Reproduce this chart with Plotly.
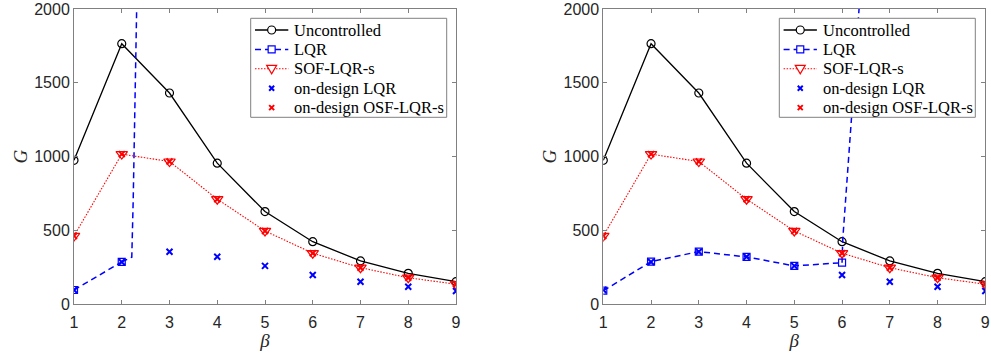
import plotly.graph_objects as go

beta = [1, 2, 3, 4, 5, 6, 7, 8, 9]
G_uncontrolled = [975, 1765, 1431, 956, 628, 424, 294, 210, 153]
G_sof = [463, 1017, 967, 712, 497, 346, 248, 180, 136]
G_ondesign_lqr = [97, 287, 356, 322, 260, 199, 153, 119, 90]
G_ondesign_osf = [463, 1017, 967, 712, 497, 346, 248, 180, 136]

# LQR evaluated off-design (left panel) and its blow-up branch
lqr_left_beta = [1, 2]
lqr_left_G = [97, 287]
lqr_left_tail_beta = [2.21, 2.24, 2.28, 2.31, 2.34]
lqr_left_tail_G = [319, 707, 1380, 2000, 2500]

# right panel
lqr_right_beta = [1, 2, 3, 4, 5, 6]
lqr_right_G = [92, 289, 357, 321, 260, 282]
lqr_right_tail_beta = [6.015, 6.2, 6.35, 6.42]
lqr_right_tail_G = [440, 1272, 2000, 2300]

legend_labels = ["Uncontrolled", "LQR", "SOF-LQR-s", "on-design LQR", "on-design OSF-LQR-s"]

BLACK, BLUE, RED = "#000000", "#0000ff", "#ff0000"
AX = "#808080"
TXT = "#262626"
W, H = 991, 355

styles = [
    dict(line=dict(color=BLACK, width=1.3),
         marker=dict(symbol="circle-open", size=8, color=BLACK, line=dict(width=1.2))),
    dict(line=dict(color=BLUE, width=1.5, dash="6px,4px"),
         marker=dict(symbol="square-open", size=7, color=BLUE, line=dict(width=1.2))),
    dict(line=dict(color=RED, width=1.1, dash="1.5px,1.5px"),
         marker=dict(symbol="triangle-down-open", size=10, color=RED, line=dict(width=1.2))),
    dict(line=None,
         marker=dict(symbol="x-thin-open", size=6, color=BLUE, line=dict(width=2, color=BLUE))),
    dict(line=None,
         marker=dict(symbol="x-thin-open", size=6, color=RED, line=dict(width=2, color=RED))),
]

fig = go.Figure()

def add_panel(col, lqr_b, lqr_g, tail_b, tail_g):
    xa = "x" if col == 1 else "x2"
    ya = "y" if col == 1 else "y2"
    common = dict(xaxis=xa, yaxis=ya, showlegend=False)
    fig.add_trace(go.Scatter(x=beta, y=G_uncontrolled, mode="lines+markers", name=legend_labels[0],
                             line=styles[0]["line"], marker=styles[0]["marker"], **common))
    fig.add_trace(go.Scatter(x=lqr_b, y=lqr_g, mode="lines+markers", name=legend_labels[1],
                             line=styles[1]["line"], marker=styles[1]["marker"], **common))
    fig.add_trace(go.Scatter(x=[lqr_b[-1]] + tail_b, y=[lqr_g[-1]] + tail_g, mode="lines",
                             line=styles[1]["line"], hoverinfo="skip", **common))
    fig.add_trace(go.Scatter(x=beta, y=G_sof, mode="lines+markers", name=legend_labels[2],
                             line=styles[2]["line"], marker=styles[2]["marker"], **common))
    fig.add_trace(go.Scatter(x=beta, y=G_ondesign_lqr, mode="markers", name=legend_labels[3],
                             marker=styles[3]["marker"], **common))
    fig.add_trace(go.Scatter(x=beta, y=G_ondesign_osf, mode="markers", name=legend_labels[4],
                             marker=styles[4]["marker"], **common))

add_panel(1, lqr_left_beta, lqr_left_G, lqr_left_tail_beta, lqr_left_tail_G)
add_panel(2, lqr_right_beta, lqr_right_G, lqr_right_tail_beta, lqr_right_tail_G)

# ---- MATLAB-style legend boxes drawn with shapes above the data ----
shapes, annotations = [], []
BOX_W, BOX_H, BOX_TOP = 196, 99, 18.3
ROW0, ROW_DY = 11.7, 19.4
SAMPLE_X0, SAMPLE_X1, TEXT_X = 4.3, 37.6, 41.5

def px(x):
    return x / W

def py(y):
    return 1 - y / H

def path(points_groups):
    s = ""
    for pts in points_groups:
        s += "M" + " L".join(f"{px(x):.5f},{py(y):.5f}" for x, y in pts) + " "
    return s.strip()

def add_marker_shape(sym, xc, yc, color):
    base = dict(type="path", xref="paper", yref="paper", layer="above",
                line=dict(color=color, width=1.2), fillcolor="rgba(0,0,0,0)")
    if sym == "circle-open":
        shapes.append(dict(type="circle", xref="paper", yref="paper", layer="above",
                           x0=px(xc - 4), x1=px(xc + 4), y0=py(yc + 4), y1=py(yc - 4),
                           line=dict(color=color, width=1.2), fillcolor="white"))
    elif sym == "square-open":
        shapes.append(dict(type="rect", xref="paper", yref="paper", layer="above",
                           x0=px(xc - 3.5), x1=px(xc + 3.5), y0=py(yc + 3.5), y1=py(yc - 3.5),
                           line=dict(color=color, width=1.2), fillcolor="white"))
    elif sym == "triangle-down-open":
        d = path([[(xc - 5, yc - 3.5), (xc + 5, yc - 3.5), (xc, yc + 5)]]) + " Z"
        shapes.append(dict(base, path=d, fillcolor="white"))
    else:
        d = path([[(xc - 2.5, yc - 2.5), (xc + 2.5, yc + 2.5)],
                  [(xc - 2.5, yc + 2.5), (xc + 2.5, yc - 2.5)]])
        shapes.append(dict(base, path=d, line=dict(color=color, width=2)))

def add_legend(left):
    shapes.append(dict(type="rect", xref="paper", yref="paper", layer="above",
                       x0=px(left), x1=px(left + BOX_W), y0=py(BOX_TOP + BOX_H), y1=py(BOX_TOP),
                       line=dict(color=AX, width=1), fillcolor="white"))
    for i, (lab, st) in enumerate(zip(legend_labels, styles)):
        yc = BOX_TOP + ROW0 + i * ROW_DY
        xc = left + (SAMPLE_X0 + SAMPLE_X1) / 2
        if st["line"] is not None:
            ln = st["line"]
            shapes.append(dict(type="line", xref="paper", yref="paper", layer="above",
                               x0=px(left + SAMPLE_X0), x1=px(left + SAMPLE_X1),
                               y0=py(yc), y1=py(yc),
                               line=dict(color=ln["color"], width=ln["width"],
                                         dash=ln.get("dash", "solid"))))
        add_marker_shape(st["marker"]["symbol"], xc, yc, st["marker"]["color"])
        annotations.append(dict(x=px(left + TEXT_X), y=py(yc), xref="paper", yref="paper", text=lab,
                                showarrow=False, xanchor="left", yanchor="middle",
                                font=dict(family="Liberation Serif, Times New Roman", size=16.5,
                                          color="#000000")))

add_legend(250.7)
add_legend(779.3)

tickfont = dict(family="Liberation Sans, Arial", size=16, color=TXT)
titlefont = dict(family="Liberation Serif, Times New Roman", size=19, color=TXT)

def xaxis(domain, anchor):
    return dict(domain=domain, anchor=anchor, range=[1, 9], dtick=1, tick0=1,
                showline=True, mirror="ticks", linecolor=AX, linewidth=1,
                ticks="inside", ticklen=4, tickcolor=AX, tickfont=tickfont,
                ticklabelstandoff=3, automargin=False,
                showgrid=False, zeroline=False,
                title=dict(text="<i>β</i>", font=titlefont, standoff=2))

def yaxis(anchor):
    return dict(domain=[50.7 / 355, 346 / 355], anchor=anchor, range=[0, 2000], dtick=500,
                showline=True, mirror="ticks", linecolor=AX, linewidth=1,
                ticks="inside", ticklen=4, tickcolor=AX, tickfont=tickfont,
                automargin=False,
                showgrid=False, zeroline=False,
                title=dict(text="<i>G</i>", font=titlefont, standoff=1))

fig.update_layout(
    width=W, height=H,
    margin=dict(l=0, r=0, t=0, b=0, autoexpand=False),
    paper_bgcolor="white", plot_bgcolor="white",
    showlegend=False,
    xaxis=xaxis([74 / W, 456 / W], "y"),
    yaxis=yaxis("x"),
    xaxis2=xaxis([603.3 / W, 985.3 / W], "y2"),
    yaxis2=yaxis("x2"),
    shapes=shapes,
    annotations=annotations,
)

fig.write_html("out.html")
